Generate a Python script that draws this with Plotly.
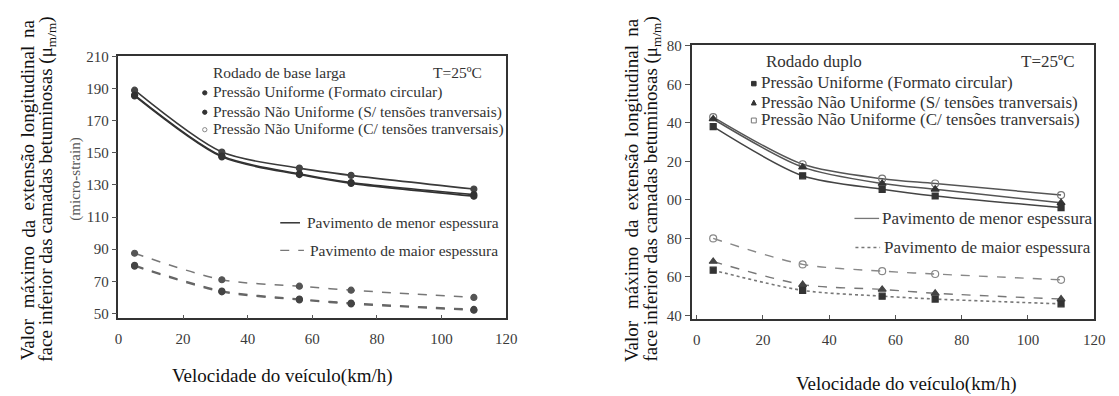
import plotly.graph_objects as go

W, H = 1119, 396

# ---------------- data ----------------
speed = [5, 32, 56, 72, 110]

# Left chart: Rodado de base larga
wb_thin_uniforme = [186, 148, 137, 131.5, 124]
wb_thin_sem = [185.5, 147.5, 136.5, 131, 123]
wb_thin_com = [189, 150.5, 140.5, 136, 127.5]
wb_thick_uniforme = [80, 64, 59, 56.5, 52.5]
wb_thick_sem = [79.5, 63.5, 58.5, 56, 52]
wb_thick_com = [87.5, 71, 67, 64.5, 60]

# Right chart: Rodado duplo
dual_thin_uniforme = [138, 112.5, 105.5, 102, 96]
dual_thin_sem = [142, 117, 108.5, 105.5, 98.5]
dual_thin_com = [143, 118.5, 111, 108.5, 102.5]
dual_thick_uniforme = [63.5, 53, 50, 48.5, 46]
dual_thick_sem = [68, 56, 53.5, 51.5, 48.5]
dual_thick_com = [80, 66.5, 63, 61.5, 58.5]

x_ticks = [0, 20, 40, 60, 80, 100, 120]
left_yticks = [50, 70, 90, 110, 130, 150, 170, 190, 210]
right_yticks = [40, 60, 80, 100, 120, 140, 160, 180]
right_yticktext = ["40", "60", "80", "00", "20", "40", "60", "80"]

FONT = "Liberation Serif"

fig = go.Figure()


def add(xa, ya, y, color, dash, width, symbol, msize, mcolor):
    fig.add_trace(go.Scatter(
        x=speed, y=y, xaxis=xa, yaxis=ya, mode="lines+markers",
        line=dict(color=color, dash=dash, width=width, shape="spline", smoothing=0.8),
        marker=dict(symbol=symbol, size=msize, color=mcolor,
                    line=dict(color=mcolor, width=1.2)),
        showlegend=False, hoverinfo="skip"))


# left chart
add("x", "y", wb_thin_com, "#3a3a3a", "solid", 1.6, "circle", 6, "#444")
add("x", "y", wb_thin_uniforme, "#333", "solid", 1.6, "circle", 6, "#333")
add("x", "y", wb_thin_sem, "#333", "solid", 1.6, "circle", 6, "#333")
add("x", "y", wb_thick_com, "#777", "dash", 1.5, "circle", 6, "#555")
add("x", "y", wb_thick_uniforme, "#666", "dash", 1.6, "circle", 6, "#444")
add("x", "y", wb_thick_sem, "#666", "dash", 1.6, "circle", 6, "#444")

# right chart
add("x2", "y2", dual_thin_com, "#555", "solid", 1.5, "circle-open", 7, "#777")
add("x2", "y2", dual_thin_sem, "#555", "solid", 1.5, "triangle-up", 7, "#333")
add("x2", "y2", dual_thin_uniforme, "#444", "solid", 1.5, "square", 6, "#333")
add("x2", "y2", dual_thick_com, "#888", "dash", 1.4, "circle-open", 7, "#888")
add("x2", "y2", dual_thick_sem, "#777", "dash", 1.4, "triangle-up", 7, "#444")
add("x2", "y2", dual_thick_uniforme, "#777", "dot", 1.6, "square", 6, "#333")


def px(x):
    return x / W


def py(y):
    return 1 - y / H


tickfont = dict(family=FONT, size=15, color="#3a3a3a")
axis_common = dict(showgrid=False, zeroline=False, showline=True, mirror=True,
                   linecolor="#333", linewidth=1.6, tickfont=tickfont,
                   tickcolor="#555", tickwidth=1)

fig.update_layout(
    width=W, height=H, margin=dict(l=0, r=0, t=0, b=0),
    paper_bgcolor="white", plot_bgcolor="white", showlegend=False,
    font=dict(family=FONT),
    xaxis=dict(domain=[px(116), px(509)], range=[0, 120], tickvals=x_ticks,
               ticks="inside", ticklen=4, anchor="y", ticklabelstandoff=6, **axis_common),
    yaxis=dict(domain=[py(320), py(50)], range=[47, 210], tickvals=left_yticks,
               ticks="outside", ticklen=5, anchor="x", **axis_common),
    xaxis2=dict(domain=[px(697), px(1105)], range=[-1.5, 120], tickvals=x_ticks,
                ticks="inside", ticklen=4, anchor="y2", ticklabelstandoff=6, **axis_common),
    yaxis2=dict(domain=[py(321), py(38)], range=[38, 180.5], tickvals=right_yticks,
                ticktext=right_yticktext, ticks="outside", ticklen=5, anchor="x2",
                **axis_common),
)

annotations = []


def ann(x, y, text, size, color="#222", xanchor="center", angle=0):
    annotations.append(dict(x=px(x), y=py(y), xref="paper", yref="paper", text=text,
                            showarrow=False, xanchor=xanchor, yanchor="middle",
                            textangle=angle,
                            font=dict(family=FONT, size=size, color=color)))


# y titles (justified first line, word by word)
words = ["Valor", "máximo", "da", "extensão", "longitudinal", "na"]
left_word_y = [342, 278, 227, 175, 86.5, 21]
right_word_y = [343, 278, 227, 174, 85, 20]
for w, y in zip(words, left_word_y):
    ann(24, y, w, 19, "#111", angle=-90)
for w, y in zip(words, right_word_y):
    ann(636, y, w, 19, "#111", angle=-90)
line2 = "face inferior das camadas betuminosas (μ<sub>m/m</sub>)"
ann(44, 187, line2, 19, "#111", angle=-90)
ann(657, 187, line2, 19, "#111", angle=-90)

# x titles
ann(282, 380, "Velocidade do veículo(km/h)", 19, "#111")
ann(915, 388, "Velocidade do veículo(km/h)", 19, "#111")

# micro-strain label
ann(73, 177, "(micro-strain)", 15, "#555", angle=-90)

# left legend
ann(210, 67, "Rodado de base larga", 15.5, "#333", xanchor="left")
ann(487, 67, "T=25ºC", 15.5, "#333", xanchor="right")
ann(210, 87, "Pressão Uniforme (Formato circular)", 15.5, "#333", xanchor="left")
ann(210, 107, "Pressão Não Uniforme (S/ tensões tranversais)", 15.5, "#333", xanchor="left")
ann(210, 125, "Pressão Não Uniforme (C/ tensões tranversais)", 15.5, "#333", xanchor="left")
ann(305, 221.5, "Pavimento de menor espessura", 15.5, "#333", xanchor="left")
ann(308, 250, "Pavimento de maior espessura", 15.5, "#333", xanchor="left")

# right legend
ann(770, 55, "Rodado duplo", 17, "#333", xanchor="left")
ann(1088, 55, "T=25ºC", 17, "#333", xanchor="right")
ann(765, 77, "Pressão Uniforme (Formato circular)", 17, "#333", xanchor="left")
ann(765, 97, "Pressão Não Uniforme (S/ tensões tranversais)", 17, "#333", xanchor="left")
ann(765, 115, "Pressão Não Uniforme (C/ tensões tranversais)", 17, "#333", xanchor="left")
ann(888, 217, "Pavimento de menor espessura", 17, "#333", xanchor="left")
ann(890, 247, "Pavimento de maior espessura", 17, "#333", xanchor="left")

fig.update_layout(annotations=annotations)


def pline(x0, x1, y, color, width, dash="solid"):
    return dict(type="line", xref="paper", yref="paper", x0=px(x0), x1=px(x1),
                y0=py(y), y1=py(y), line=dict(color=color, width=width, dash=dash))


def pbox(kind, cx, cy, r, fill, line):
    return dict(type=kind, xref="paper", yref="paper", x0=px(cx - r), x1=px(cx + r),
                y0=py(cy + r), y1=py(cy - r), fillcolor=fill,
                line=dict(color=line, width=1))


def ptri(cx, cy, r, fill):
    path = "M {} {} L {} {} L {} {} Z".format(px(cx - r), py(cy + r), px(cx + r), py(cy + r),
                                              px(cx), py(cy - r))
    return dict(type="path", xref="paper", yref="paper", path=path, fillcolor=fill,
                line=dict(color=fill, width=1))


shapes = [
    pline(280, 300, 221.5, "#333", 1.5),
    pline(280, 304, 250, "#777", 1.3, "dash"),
    pline(862, 887, 217, "#777", 1.3),
    pline(863, 888, 247, "#777", 1.3, "dot"),
    # left legend markers
    pbox("circle", 203.5, 87.5, 2.2, "#333", "#333"),
    pbox("circle", 203.5, 107.5, 2.2, "#333", "#333"),
    pbox("circle", 203.5, 125.5, 2.2, "white", "#888"),
    # right legend markers
    pbox("rect", 760, 78, 2.3, "#333", "#333"),
    ptri(760, 97.5, 2.5, "#333"),
    pbox("rect", 760, 116, 2.5, "white", "#777"),
]
fig.update_layout(shapes=shapes)

fig.write_html("out.html")
